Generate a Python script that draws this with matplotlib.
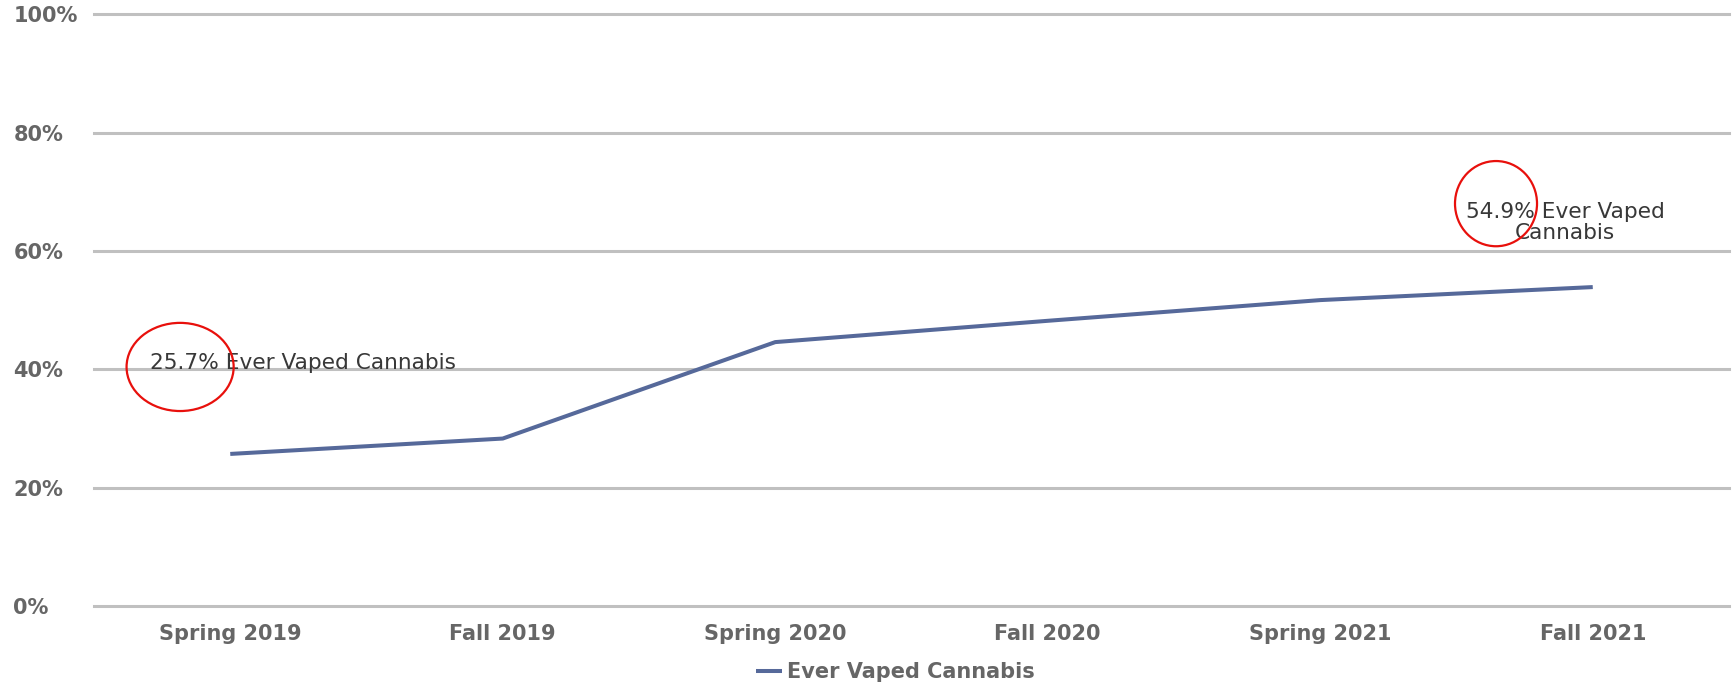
import matplotlib
matplotlib.use("Agg")
import matplotlib.pyplot as plt
from matplotlib.patches import Ellipse
from matplotlib.ticker import FuncFormatter

categories = ["Spring 2019", "Fall 2019", "Spring 2020", "Fall 2020", "Spring 2021", "Fall 2021"]
ever_vaped = [25.7, 28.3, 44.6, 48.2, 51.7, 53.9]
series_name = "Ever Vaped Cannabis"
y_ticks = [0, 20, 40, 60, 80, 100]
annotation_texts = ["25.7% Ever Vaped Cannabis", "54.9% Ever Vaped\nCannabis"]

plt.rcParams['font.family'] = ['DejaVu Sans']

fig = plt.figure(figsize=(17.34, 6.84), dpi=100)
ax = fig.add_axes([94/1734, 1 - 606/684, (1729 - 94)/1734, (606 - 14.3)/684])

x = list(range(len(categories)))
ax.plot(x, ever_vaped, color="#56699a", lw=2.9, solid_capstyle="butt",
        label=series_name, zorder=3)

ax.set_xlim(-0.5, len(categories) - 0.5)
ax.set_ylim(0, 100)
ax.set_yticks(y_ticks)
ax.yaxis.set_major_formatter(FuncFormatter(lambda v, p: f"{int(v)}%"))
ax.set_xticks(x)
ax.set_xticklabels(categories)
ax.grid(axis="y", color="#c0c0c0", lw=2.2)
for gl in ax.get_ygridlines():
    gl.set_clip_on(False)
ax.set_axisbelow(True)
for s in ax.spines.values():
    s.set_visible(False)
ax.tick_params(axis="both", length=0, labelsize=15, labelcolor="#666666")
ax.tick_params(axis="x", pad=13)
ax.tick_params(axis="y", pad=58)
for lab in ax.get_yticklabels():
    lab.set_horizontalalignment("left")
    lab.set_fontweight("bold")
for lab in ax.get_xticklabels():
    lab.set_fontweight("bold")

# annotations
ax.text(-0.294, 41.1, annotation_texts[0], fontsize=15.6, color="#383838",
        ha="left", va="center", zorder=4)
ax.text(4.898, 64.8, annotation_texts[1], fontsize=15.6, color="#383838",
        ha="center", va="center", linespacing=1.1, zorder=4)
ax.add_patch(Ellipse((-0.184, 40.4), 0.393, 14.9, fill=False, ec="#e8100c", lw=1.6,
                     zorder=5, clip_on=False))
ax.add_patch(Ellipse((4.645, 68.0), 0.301, 14.4, fill=False, ec="#e8100c", lw=1.6,
                     zorder=5, clip_on=False))

leg = fig.legend(loc="center", bbox_to_anchor=(895/1734, 1 - 672/684), frameon=False,
                 fontsize=15, handlelength=1.25, handletextpad=0.25)
for t in leg.get_texts():
    t.set_color("#666666")
    t.set_fontweight("bold")

fig.savefig("out.png", dpi=100)
